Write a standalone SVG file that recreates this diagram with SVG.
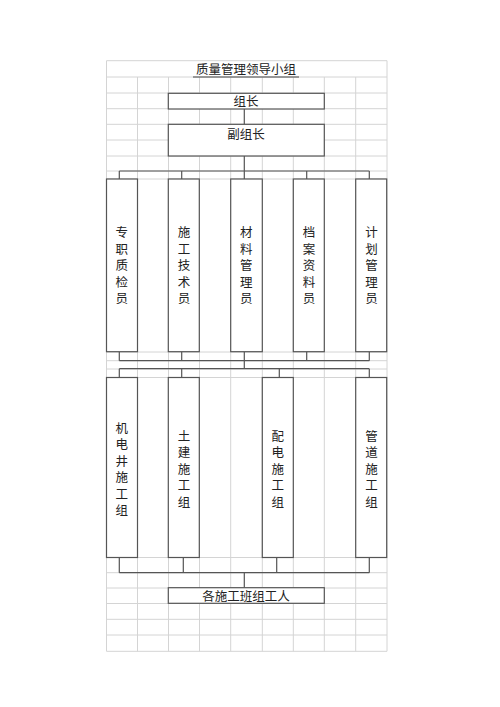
<svg xmlns="http://www.w3.org/2000/svg" width="500" height="707" viewBox="0 0 500 707">
<style>
.grid line{stroke:#d4d4d4;stroke-width:1}
.box{fill:#fff;stroke:#555;stroke-width:1.2}
.conn{fill:none;stroke:#555;stroke-width:1.2}
text{font-family:"Noto Sans CJK SC","Liberation Serif",serif;font-size:12.5px;fill:#222;text-anchor:middle}
.v{writing-mode:vertical-rl;letter-spacing:4px}
</style>
<rect width="500" height="707" fill="#fff"/>
<g id="grid" class="grid">
<line x1="106.5" y1="60.7" x2="387" y2="60.7"/>
<line x1="106.5" y1="77" x2="387" y2="77"/>
<line x1="106.5" y1="93" x2="387" y2="93"/>
<line x1="106.5" y1="108.7" x2="387" y2="108.7"/>
<line x1="106.5" y1="124.3" x2="387" y2="124.3"/>
<line x1="106.5" y1="140" x2="387" y2="140"/>
<line x1="106.5" y1="156" x2="387" y2="156"/>
<line x1="106.5" y1="171" x2="387" y2="171"/>
<line x1="106.5" y1="179" x2="387" y2="179"/>
<line x1="106.5" y1="352" x2="387" y2="352"/>
<line x1="106.5" y1="360.7" x2="387" y2="360.7"/>
<line x1="106.5" y1="369" x2="387" y2="369"/>
<line x1="106.5" y1="377.5" x2="387" y2="377.5"/>
<line x1="106.5" y1="557.5" x2="387" y2="557.5"/>
<line x1="106.5" y1="572.7" x2="387" y2="572.7"/>
<line x1="106.5" y1="588" x2="387" y2="588"/>
<line x1="106.5" y1="603.5" x2="387" y2="603.5"/>
<line x1="106.5" y1="619.3" x2="387" y2="619.3"/>
<line x1="106.5" y1="635" x2="387" y2="635"/>
<line x1="106.5" y1="651.3" x2="387" y2="651.3"/>
<line x1="106.5" y1="60.7" x2="106.5" y2="651.3"/>
<line x1="137.5" y1="77" x2="137.5" y2="651.3"/>
<line x1="168.5" y1="77" x2="168.5" y2="651.3"/>
<line x1="199.5" y1="77" x2="199.5" y2="651.3"/>
<line x1="230.7" y1="77" x2="230.7" y2="651.3"/>
<line x1="262.3" y1="77" x2="262.3" y2="651.3"/>
<line x1="293.3" y1="77" x2="293.3" y2="651.3"/>
<line x1="324.3" y1="77" x2="324.3" y2="651.3"/>
<line x1="355.7" y1="77" x2="355.7" y2="651.3"/>
<line x1="387" y1="60.7" x2="387" y2="651.3"/>
</g>
<g id="title">
<text x="246" y="73.5">质量管理领导小组</text>
<line x1="193" y1="77" x2="299" y2="77" stroke="#444" stroke-width="1.2"/>
</g>
<g id="connectors" class="conn">
<path d="M244.3 109V124.3"/>
<path d="M244.3 156V171M119.3 171H369.3M119.3 171V179M181.7 171V179M244.3 171V179M306.7 171V179M369.3 171V179"/>
<path d="M119.3 351.7V360.7M181.7 351.7V360.7M244.3 351.7V360.7M306.7 351.7V360.7M369.3 351.7V360.7M119.3 360.7H369.3"/>
<path d="M244.3 360.7V368.7M119.3 368.7H369.3M119.3 368.7V377.5M181.7 368.7V377.5M279.3 368.7V377.5M369.3 368.7V377.5"/>
<path d="M119.3 557.5V572.7M183.3 557.5V572.7M276.7 557.5V572.7M369.3 557.5V572.7M119.3 572.7H369.3M244.3 572.7V587.7"/>
</g>
<g id="n-zuzhang"><rect class="box" x="168.3" y="93.3" width="156" height="15.7"/><text x="246" y="105.8">组长</text></g>
<g id="n-fuzuzhang"><rect class="box" x="168.3" y="124.3" width="156" height="31.7"/><text x="246" y="138.5">副组长</text></g>
<g id="n-zhijian"><rect class="box" x="106.5" y="179" width="31" height="172.7"/><text class="v" x="121.8" y="267.5">专职质检员</text></g>
<g id="n-jishu"><rect class="box" x="168.3" y="179" width="31" height="172.7"/><text class="v" x="184" y="267.5">施工技术员</text></g>
<g id="n-cailiao"><rect class="box" x="230.7" y="179" width="31.6" height="172.7"/><text class="v" x="246.3" y="267.5">材料管理员</text></g>
<g id="n-dangan"><rect class="box" x="293.3" y="179" width="31" height="172.7"/><text class="v" x="309" y="267.5">档案资料员</text></g>
<g id="n-jihua"><rect class="box" x="355.7" y="179" width="31" height="172.7"/><text class="v" x="371.5" y="267.5">计划管理员</text></g>
<g id="n-jidian"><rect class="box" x="106.5" y="377.5" width="31" height="180"/><text class="v" x="121.8" y="471.2">机电井施工组</text></g>
<g id="n-tujian"><rect class="box" x="168.3" y="377.5" width="31" height="180"/><text class="v" x="184" y="471.2">土建施工组</text></g>
<g id="n-peidian"><rect class="box" x="262.3" y="377.5" width="31" height="180"/><text class="v" x="277.8" y="471.2">配电施工组</text></g>
<g id="n-guandao"><rect class="box" x="355.7" y="377.5" width="31" height="180"/><text class="v" x="371.5" y="471.2">管道施工组</text></g>
<g id="n-gongren"><rect class="box" x="168.3" y="587.7" width="156" height="15.6"/><text x="246" y="600.5">各施工班组工人</text></g>
</svg>
